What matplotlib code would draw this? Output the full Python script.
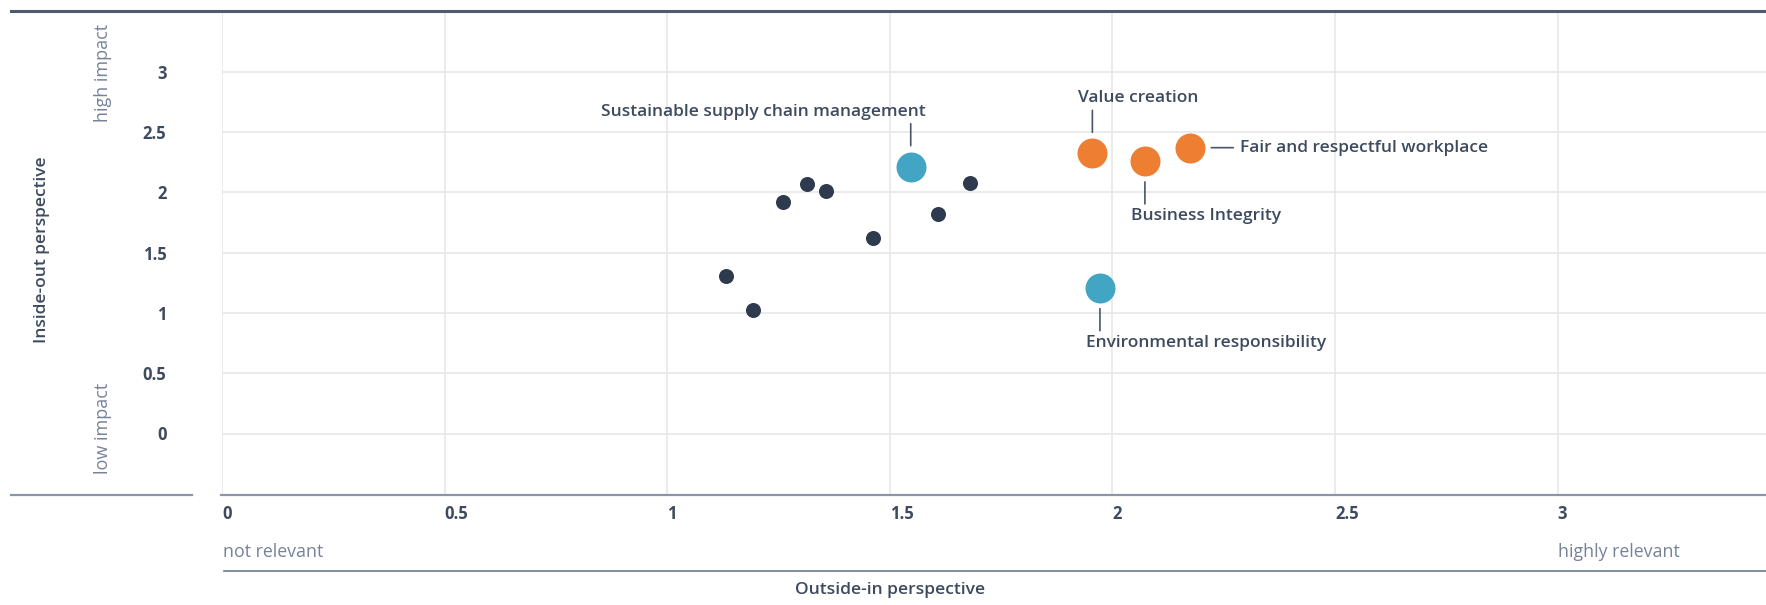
import matplotlib
matplotlib.use("Agg")
import matplotlib.pyplot as plt
from matplotlib.lines import Line2D

plt.rcParams['font.family'] = ['Open Sans', 'DejaVu Sans']

# other topics (unlabelled)
other_x = [1.131, 1.193, 1.260, 1.314, 1.357, 1.462, 1.609, 1.681]
other_y = [1.303, 1.024, 1.917, 2.071, 2.011, 1.619, 1.823, 2.075]

# environmental topics (blue)
env_names = ["Sustainable supply chain management", "Environmental responsibility"]
env_x = [1.547, 1.972]
env_y = [2.212, 1.209]

# social / governance topics (orange)
soc_names = ["Value creation", "Business Integrity", "Fair and respectful workplace"]
soc_x = [1.955, 2.073, 2.175]
soc_y = [2.323, 2.260, 2.370]

x_ticks = [0, 0.5, 1, 1.5, 2, 2.5, 3]
y_ticks = [0, 0.5, 1, 1.5, 2, 2.5, 3]
x_ticklabels = ["0", "0.5", "1", "1.5", "2", "2.5", "3"]
y_ticklabels = ["0", "0.5", "1", "1.5", "2", "2.5", "3"]

W, H = 1766, 605
TEXT = "#3e4a5e"
LIGHT = "#76829a"
DARK_DOT = "#2e3a4e"
ORANGE = "#ee7f32"
BLUE = "#41a5c3"


def fx(px):
    return px / W


def fy(py):
    return 1 - py / H


fig = plt.figure(figsize=(W / 100, H / 100), dpi=100)
x0, x_unit = 222, 445.2
y_top, y_bot = 11.4, 493.8
ax = fig.add_axes([fx(x0), fy(y_bot), 3.5 * x_unit / W, (y_bot - y_top) / H])
ax.set_xlim(0, 3.5)
ax.set_ylim(-0.5, 3.5)
for s in ax.spines.values():
    s.set_visible(False)

ax.set_xticks(x_ticks)
ax.set_xticklabels(x_ticklabels, ha="left", fontweight="bold", fontsize=12, color=TEXT)
ax.set_yticks(y_ticks)
ax.set_yticklabels(y_ticklabels, fontweight="bold", fontsize=12, color=TEXT)
ax.tick_params(axis="x", length=0, pad=8)
ax.tick_params(axis="y", length=0, pad=40)
ax.grid(True, color="#e8e8e8", lw=1.2, zorder=0)
ax.set_axisbelow(True)

ax.scatter(other_x, other_y, s=117, color=DARK_DOT, zorder=3, linewidths=0)
ax.scatter(env_x, env_y, s=466, color=BLUE, zorder=3, linewidths=0)
ax.scatter(soc_x, soc_y, s=466, color=ORANGE, zorder=3, linewidths=0)

# label placement: direction of connector and text offset (pixels)
k = 0.72
label_specs = {
    "Sustainable supply chain management": ("up", "right", 15),
    "Environmental responsibility": ("down", "left", -14),
    "Value creation": ("up", "left", -14),
    "Business Integrity": ("down", "left", -14),
    "Fair and respectful workplace": ("right", "left", 50),
}
for name, x, y in zip(env_names + soc_names, env_x + soc_x, env_y + soc_y):
    d, ha, dx = label_specs[name]
    if d == "right":
        line_end = (43 * k, 0)
        txt = (dx * k, 0)
    else:
        sgn = 1 if d == "up" else -1
        line_end = (0, sgn * 43 * k)
        txt = (dx * k, sgn * 55 * k)
    ax.annotate("", xy=(x, y), xytext=line_end, textcoords="offset points",
                arrowprops=dict(arrowstyle="-", color="#4a566b", lw=1.2,
                                shrinkA=0, shrinkB=21 * k), zorder=4)
    ax.annotate(name, xy=(x, y), xytext=txt, textcoords="offset points",
                ha=ha, va="center", fontsize=12.5, fontweight="semibold", color=TEXT, zorder=4)

# frame lines
fig.add_artist(Line2D([fx(11), fx(W)], [fy(11), fy(11)], color="#4d5b70", lw=2.2))
fig.add_artist(Line2D([fx(11), fx(192)], [fy(494.5), fy(494.5)], color="#8c96a8", lw=1.6))
fig.add_artist(Line2D([fx(221), fx(W)], [fy(494.5), fy(494.5)], color="#8c96a8", lw=1.6))
fig.add_artist(Line2D([fx(224), fx(W)], [fy(571), fy(571)], color="#6b7890", lw=1.2))

# axis titles
fig.text(fx(41.7), fy(250), "Inside-out perspective", rotation=90, ha="center", va="center",
         fontsize=12.5, fontweight="semibold", color=TEXT)
fig.text(fx(102.5), fy(73), "high impact", rotation=90, ha="center", va="center",
         fontsize=13, color=LIGHT)
fig.text(fx(102.5), fy(428), "low impact", rotation=90, ha="center", va="center",
         fontsize=13, color=LIGHT)
fig.text(fx(223), fy(552), "not relevant", ha="left", va="center",
         fontsize=12.8, color=LIGHT)
fig.text(fx(x0 + 3 * x_unit), fy(552), "highly relevant", ha="left", va="center",
         fontsize=12.8, color=LIGHT)
fig.text(fx(890), fy(590), "Outside-in perspective", ha="center", va="center",
         fontsize=12.6, fontweight="semibold", color=TEXT)

fig.savefig("out.png", dpi=100)
